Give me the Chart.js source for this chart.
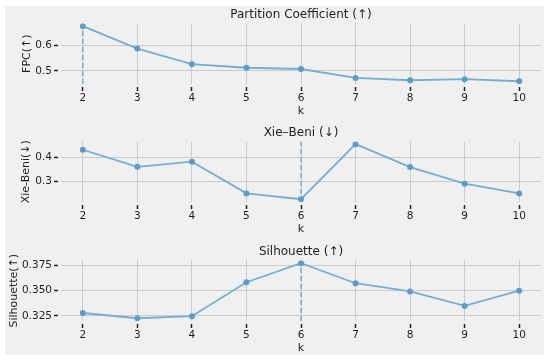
<!DOCTYPE html>
<html>
<head>
<meta charset="utf-8">
<script src="https://cdn.jsdelivr.net/npm/chart.js@4"></script>
<style>
  body { margin: 0; background: #fff; }
  #wrap { position: relative; width: 550px; height: 363px; }
  #bg { position: absolute; left: 5px; top: 6px; width: 539px; height: 349px; background: #f0f0f0; }
  canvas { position: absolute; left: 0; }
</style>
</head>
<body>
<div id="wrap">
  <div id="bg"></div>
  <canvas id="c1" width="550" height="118" style="top:0px"></canvas>
  <canvas id="c2" width="550" height="118" style="top:118px"></canvas>
  <canvas id="c3" width="550" height="118" style="top:237px"></canvas>
</div>
<script>
// k values tried
var kValues = [2, 3, 4, 5, 6, 7, 8, 9, 10];

// metric values
var fpcValues = [0.675, 0.587, 0.526, 0.512, 0.507, 0.472, 0.463, 0.467, 0.459];
var xbValues = [0.430, 0.360, 0.381, 0.251, 0.227, 0.453, 0.359, 0.291, 0.251];
var silValues = [0.3279, 0.3227, 0.3247, 0.3584, 0.3773, 0.3574, 0.3493, 0.3349, 0.3500];

// y tick labels
var fpcTicks = [0.5, 0.6];
var fpcTickLabels = ["0.5", "0.6"];
var xbTicks = [0.3, 0.4];
var xbTickLabels = ["0.3", "0.4"];
var silTicks = [0.325, 0.350, 0.375];
var silTickLabels = ["0.325", "0.350", "0.375"];

var lineColor = "#74afd3";
var pointColor = "#5c9dc8";
var gridColor = "#cbcbcb";
var textColor = "#1e1e1e";
var FONT = "'DejaVu Sans', sans-serif";

function makeChart(id, values, yTicks, yTickLabels, title, yTitle, bestIdx, yTitlePad) {
  var lo = Math.min.apply(null, values), hi = Math.max.apply(null, values);
  var m = (hi - lo) * 0.05;
  var yMin = lo - m, yMax = hi + m;

  new Chart(document.getElementById(id), {
    type: "line",
    data: {
      datasets: [{
        data: kValues.map(function(k, i) { return {x: k, y: values[i]}; }),
        borderColor: lineColor,
        borderWidth: 1.8,
        pointRadius: 3,
        pointBackgroundColor: pointColor,
        pointBorderWidth: 0,
        tension: 0
      }, {
        // dashed vertical line at the best k
        data: [{x: kValues[bestIdx], y: yMin}, {x: kValues[bestIdx], y: yMax}],
        borderColor: lineColor,
        borderWidth: 1.5,
        borderDash: [5, 3],
        pointRadius: 0
      }]
    },
    options: {
      responsive: false,
      animation: false,
      layout: { padding: { left: 5, right: 9, top: 0, bottom: 0 } },
      plugins: {
        legend: { display: false },
        tooltip: { enabled: false },
        title: {
          display: true,
          text: title,
          fullSize: false,
          color: textColor,
          font: { family: FONT, size: 12, weight: "normal" },
          padding: { top: 8, bottom: 1 }
        }
      },
      scales: {
        x: {
          type: "linear",
          min: 1.6, max: 10.4,
          afterBuildTicks: function(s) { s.ticks = kValues.map(function(v) { return {value: v}; }); },
          afterFit: function(s) { s.height = 34; },
          border: { display: false },
          grid: { color: gridColor, lineWidth: 1, tickLength: 7, tickColor: "#222", tickWidth: 1.5, tickBorderDash: [0, 3, 4, 100] },
          ticks: { color: textColor, font: { family: FONT, size: 10.5 }, padding: 1, maxRotation: 0 },
          title: { display: true, text: "k", color: textColor, font: { family: FONT, size: 11 }, padding: 0 }
        },
        y: {
          min: yMin, max: yMax,
          afterBuildTicks: function(s) { s.ticks = yTicks.map(function(v) { return {value: v}; }); },
          afterFit: function(s) { s.width = 56; },
          border: { display: false },
          grid: { color: gridColor, lineWidth: 1, tickLength: 7, tickColor: "#222", tickWidth: 1.5, tickBorderDash: [4, 100] },
          ticks: {
            color: textColor, font: { family: FONT, size: 10.5 }, padding: 2,
            callback: function(v, i) { return yTickLabels[i]; }
          },
          title: { display: true, text: yTitle, color: textColor, font: { family: FONT, size: 11 }, padding: { top: yTitlePad, bottom: 0 } }
        }
      }
    }
  });
}

makeChart("c1", fpcValues, fpcTicks, fpcTickLabels, "Partition Coefficient (\u2191)", "FPC(\u2191)", 0, 16);
makeChart("c2", xbValues, xbTicks, xbTickLabels, "Xie\u2013Beni (\u2193)", "Xie-Beni(\u2193)", 4, 15);
makeChart("c3", silValues, silTicks, silTickLabels, "Silhouette (\u2191)", "Silhouette(\u2191)", 4, 3);
</script>
</body>
</html>
